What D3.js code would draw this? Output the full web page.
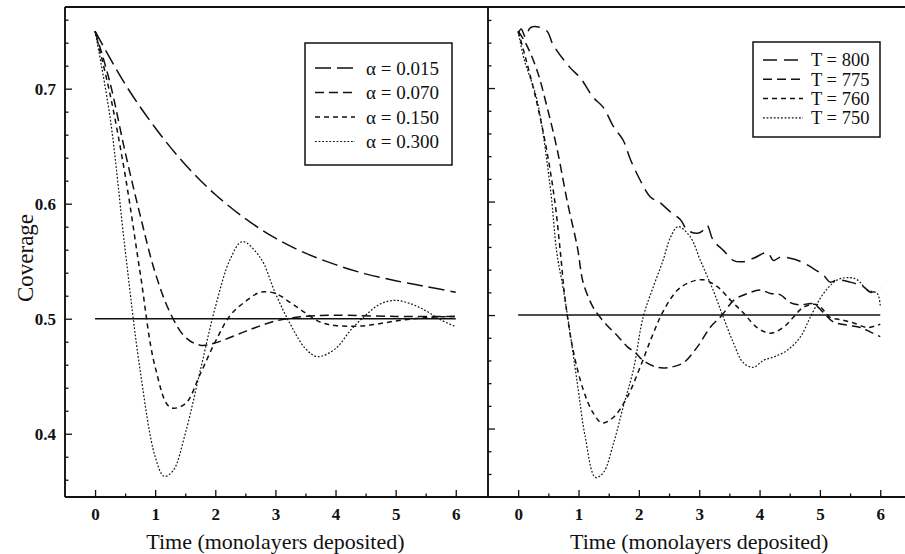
<!DOCTYPE html>
<html><head><meta charset="utf-8">
<script src="https://cdn.jsdelivr.net/npm/d3@7"></script>
<style>
body{margin:0;background:#fff;}
text{font-family:"Liberation Serif","Times New Roman",serif;fill:#111;}
</style></head>
<body><svg id="c" width="905" height="554"></svg>
<script>
// ---------- data ----------
const xTicks = [0,1,2,3,4,5,6];
const yTicks = [0.4,0.5,0.6,0.7];
const yTickLabels = ["0.4","0.5","0.6","0.7"];
const xTitle = "Time (monolayers deposited)";
const yTitle = "Coverage";
const refLevel = 0.5;

// left panel (alpha series)
const leftLabels = ["α = 0.015","α = 0.070","α = 0.150","α = 0.300"];
const a015_t = [0,0.5,1,1.5,2,2.5,3,3.5,4,4.5,5,5.5,6];
const a015_v = [0.750,0.704,0.666,0.634,0.608,0.587,0.570,0.557,0.547,0.539,0.533,0.528,0.523];
const a070_t = [0,0.25,0.5,0.75,1,1.25,1.5,1.75,2,2.5,3,3.5,4,5,6];
const a070_v = [0.750,0.705,0.645,0.590,0.540,0.505,0.484,0.477,0.479,0.489,0.498,0.502,0.503,0.502,0.502];
const a150_t = [0,0.25,0.5,0.75,1,1.25,1.5,1.75,2,2.25,2.5,2.75,3,3.25,3.5,3.75,4,4.5,5,5.5,6];
const a150_v = [0.750,0.695,0.625,0.540,0.458,0.423,0.426,0.452,0.480,0.503,0.515,0.523,0.522,0.514,0.505,0.497,0.494,0.494,0.498,0.501,0.502];
const a300_t = [0,0.25,0.5,0.75,1,1.15,1.3,1.5,1.75,2,2.25,2.45,2.75,3,3.25,3.5,3.7,4,4.25,4.5,4.75,5,5.25,5.5,5.75,6];
const a300_v = [0.750,0.675,0.560,0.455,0.380,0.363,0.368,0.400,0.455,0.510,0.552,0.567,0.553,0.522,0.495,0.474,0.467,0.474,0.490,0.503,0.513,0.516,0.513,0.507,0.499,0.493];

// right panel (temperature series)
const rightLabels = ["T = 800","T = 775","T = 760","T = 750"];
const t800_t = [0,0.05,0.12,0.2,0.31,0.48,0.58,0.86,1.03,1.24,1.41,1.58,1.74,1.86,2.02,2.19,2.35,2.52,2.69,2.8,2.97,3.05,3.13,3.23,3.4,3.57,3.73,3.9,4.13,4.23,4.34,4.51,4.73,4.89,5.06,5.17,5.29,5.5,5.72,5.84,5.95,6.0];
const t800_v = [0.748,0.752,0.745,0.753,0.754,0.750,0.738,0.718,0.709,0.692,0.683,0.666,0.654,0.637,0.619,0.604,0.599,0.591,0.584,0.575,0.572,0.574,0.579,0.566,0.557,0.548,0.547,0.550,0.555,0.548,0.551,0.550,0.546,0.541,0.535,0.529,0.531,0.529,0.525,0.520,0.522,0.524];
const t775_t = [0,0.12,0.31,0.48,0.65,0.81,0.98,1.08,1.24,1.33,1.47,1.64,1.81,1.94,2.07,2.3,2.52,2.74,2.97,3.18,3.38,3.57,3.8,4.01,4.18,4.34,4.51,4.68,4.89,5.06,5.22,5.46,5.67,5.84,6.0];
const t775_v = [0.750,0.740,0.716,0.683,0.645,0.601,0.560,0.528,0.507,0.500,0.491,0.482,0.472,0.467,0.460,0.454,0.454,0.458,0.472,0.489,0.500,0.513,0.519,0.522,0.519,0.518,0.511,0.509,0.510,0.502,0.494,0.491,0.489,0.485,0.481];
const t760_t = [0,0.08,0.31,0.48,0.61,0.7,0.78,0.91,1.08,1.24,1.39,1.58,1.81,2.02,2.24,2.4,2.64,2.85,3.07,3.3,3.52,3.73,3.96,4.18,4.39,4.56,4.73,4.96,5.17,5.34,5.56,5.79,6.0];
const t760_v = [0.750,0.735,0.687,0.643,0.599,0.555,0.513,0.469,0.434,0.414,0.405,0.410,0.428,0.454,0.484,0.503,0.522,0.529,0.531,0.525,0.513,0.502,0.489,0.484,0.489,0.498,0.507,0.509,0.498,0.496,0.493,0.489,0.492];
const t750_t = [0,0.1,0.31,0.53,0.64,0.73,0.81,0.98,1.11,1.28,1.41,1.58,1.74,1.91,2.07,2.24,2.4,2.52,2.65,2.85,3.02,3.23,3.4,3.57,3.73,3.9,4.06,4.23,4.46,4.68,4.84,5.06,5.29,5.5,5.62,5.79,5.95,6.0];
const t750_v = [0.750,0.725,0.690,0.613,0.555,0.528,0.502,0.440,0.393,0.357,0.361,0.387,0.419,0.452,0.498,0.525,0.548,0.568,0.578,0.569,0.548,0.522,0.498,0.475,0.458,0.454,0.460,0.463,0.469,0.481,0.498,0.519,0.531,0.533,0.531,0.522,0.519,0.508];

// ---------- drawing ----------
const svg = d3.select("#c");
const yTop = 7, yBot = 497;

const xL = d3.scaleLinear().domain([-0.5, 6.32]).range([65, 475]);
const yL = d3.scaleLinear().domain([0.345, 0.771]).range([yBot, yTop]);
const xR = d3.scaleLinear().domain([-0.5, 6.41]).range([488, 905]);
const yR = d3.scaleLinear().domain([0.3397, 0.7714]).range([yBot, yTop]);

const ink = "#111";
const styles = ["16,6","9,5","5,4","1.8,1.8"];
const rStyles = ["14,7","9,5","5,4","1.8,1.8"];

function zip(t,v){return t.map((d,i)=>[d,v[i]]);}

function panel(x, y, series, dashes, labels, showYLabels, legend){
  const g = svg.append("g");
  const ya = d3.axisLeft(y).tickValues(yTicks).tickSize(-7).tickPadding(9)
    .tickFormat((d,i)=>showYLabels?yTickLabels[i]:"");
  g.append("g").attr("transform",`translate(${x.range()[0]},0)`).call(ya);
  const minorY = d3.range(0.36,0.765,0.02).filter(v=>!yTicks.some(m=>Math.abs(m-v)<1e-6));
  g.append("g").attr("transform",`translate(${x.range()[0]},0)`)
    .call(d3.axisLeft(y).tickValues(minorY).tickSize(-3.5).tickFormat(""));
  const xa = d3.axisBottom(x).tickValues(xTicks).tickSize(-7).tickPadding(11).tickFormat(d3.format("d"));
  g.append("g").attr("transform",`translate(0,${yBot})`).call(xa);
  g.append("g").attr("transform",`translate(0,${yBot})`)
    .call(d3.axisBottom(x).tickValues([0.5,1.5,2.5,3.5,4.5,5.5]).tickSize(-3.5).tickFormat(""));
  g.selectAll(".domain").remove();
  g.selectAll(".tick line").attr("stroke",ink).attr("stroke-width",1.3);
  g.selectAll(".tick text").attr("font-size",17).attr("font-family","Liberation Serif").attr("fill",ink).attr("font-weight","bold");

  g.append("line").attr("x1",x(0)).attr("x2",x(6)).attr("y1",y(refLevel)).attr("y2",y(refLevel))
    .attr("stroke",ink).attr("stroke-width",1.5);

  const line = d3.line().x(d=>x(d[0])).y(d=>y(d[1])).curve(d3.curveCatmullRom.alpha(0.5));
  series.forEach((s,i)=>{
    g.append("path").attr("d",line(s)).attr("fill","none").attr("stroke",ink)
      .attr("stroke-width", i===3?1.2:1.5).attr("stroke-dasharray",dashes[i]);
  });

  const L = legend;
  g.append("rect").attr("x",L.x).attr("y",L.y).attr("width",L.w).attr("height",L.h)
    .attr("fill","#fff").attr("stroke",ink).attr("stroke-width",1.5);
  labels.forEach((lab,i)=>{
    const yy = L.y + L.r0 + i*L.dr;
    g.append("line").attr("x1",L.x+L.lx0).attr("x2",L.x+L.lx1).attr("y1",yy).attr("y2",yy)
      .attr("stroke",ink).attr("stroke-width", i===3?1.2:1.5).attr("stroke-dasharray",dashes[i]);
    g.append("text").attr("x",L.x+L.tx).attr("y",yy).attr("dy","0.35em")
      .attr("font-size",L.fs).text(lab);
  });

  g.append("text").attr("x",x(3)).attr("y",549).attr("text-anchor","middle")
    .attr("font-size",22).text(xTitle);
}

panel(xL, yL, [zip(a015_t,a015_v),zip(a070_t,a070_v),zip(a150_t,a150_v),zip(a300_t,a300_v)],
  styles, leftLabels, true, {x:305,y:43,w:147,h:122,r0:25,dr:24.5,lx0:10,lx1:50,tx:61,fs:19});
panel(xR, yR, [zip(t800_t,t800_v),zip(t775_t,t775_v),zip(t760_t,t760_v),zip(t750_t,t750_v)],
  rStyles, rightLabels, false, {x:753,y:42,w:127,h:95,r0:18,dr:19.3,lx0:10,lx1:50,tx:58,fs:18.5});

const fr = svg.append("g").attr("stroke",ink).attr("stroke-width",1.9);
fr.append("line").attr("x1",65).attr("x2",905).attr("y1",yTop).attr("y2",yTop);
fr.append("line").attr("x1",65).attr("x2",905).attr("y1",yBot).attr("y2",yBot);
fr.append("line").attr("x1",65).attr("x2",65).attr("y1",yTop).attr("y2",yBot);
fr.append("line").attr("x1",488).attr("x2",488).attr("y1",yTop).attr("y2",yBot);

svg.append("text").attr("transform","translate(33,258) rotate(-90)").attr("text-anchor","middle")
  .attr("font-size",23).text(yTitle);
</script></body></html>
